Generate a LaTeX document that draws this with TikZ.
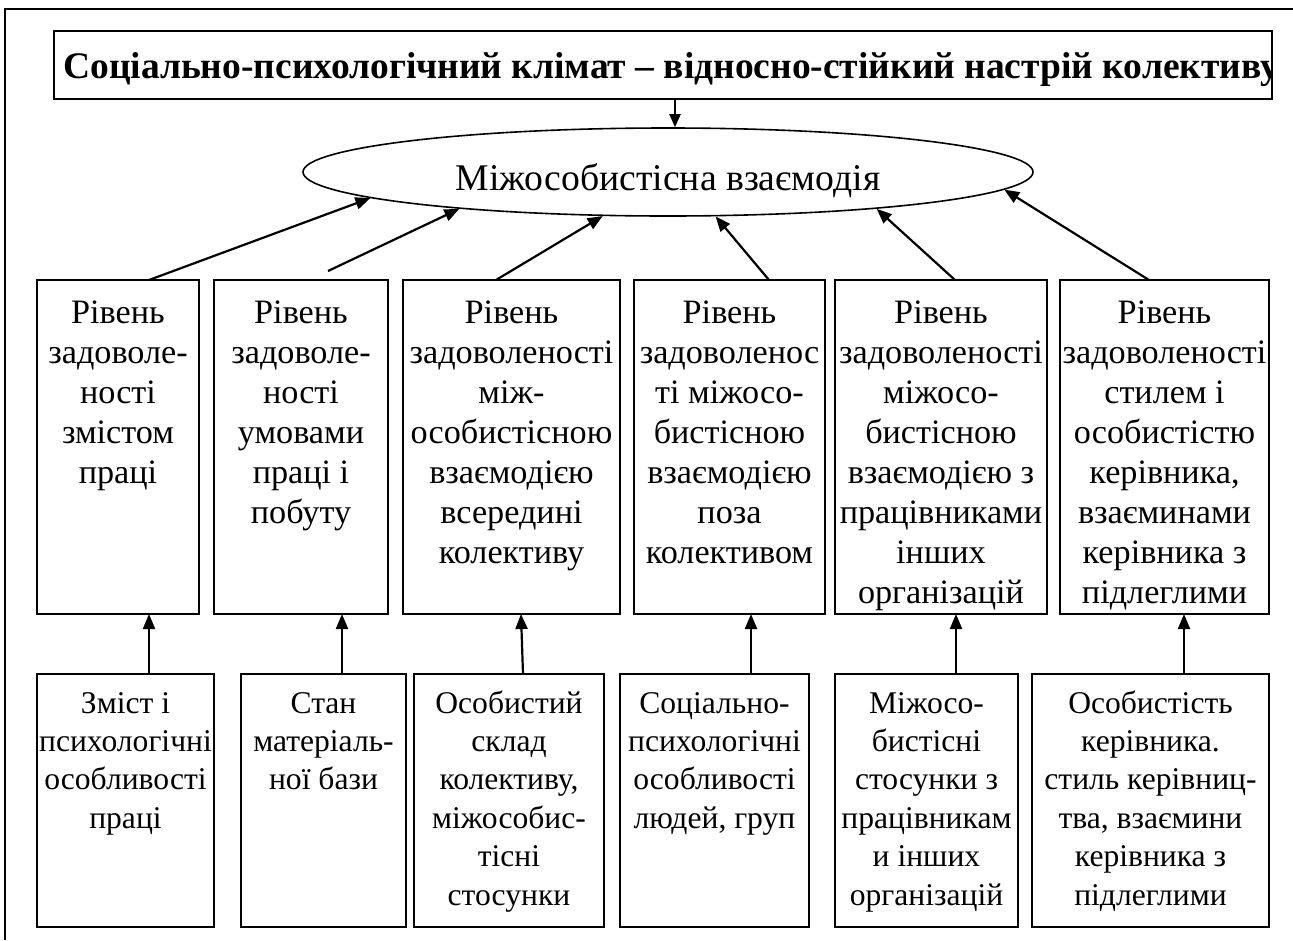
\documentclass[tikz,border=0pt]{standalone}
\usepackage{fontspec}
\setmainfont{Liberation Serif}
\usetikzlibrary{arrows.meta,shapes.geometric,calc}
\newlength{\firstbl}
\newcommand{\tbox}[3]{\makebox[#2][c]{\parbox[c][#1][t]{\dimexpr#2+80pt\relax}{\centering\rule{0pt}{\firstbl}#3\par}}}
\begin{document}
\begin{tikzpicture}[x=1pt,y=-1pt,
  frame/.style={line width=1.6pt},
  ubox/.style={draw,line width=1.6pt,inner sep=0pt,outer sep=0pt,font=\fontsize{34.2}{40}\selectfont\setlength{\firstbl}{43pt}},
  lbox/.style={draw,line width=1.6pt,inner sep=0pt,outer sep=0pt,font=\fontsize{31.6}{38.4}\selectfont\setlength{\firstbl}{39pt}},
  arr/.style={draw,line width=2.2pt,-{Triangle[length=15pt,width=12pt]}},
  darr/.style={draw,line width=2pt,-{Triangle[length=13pt,width=11pt]}}
]
\useasboundingbox (0,0) rectangle (1293,940);
\draw[frame] (5,940) -- (5,9) -- (1293,9);

% title
\node[draw,line width=1.6pt,minimum width=1218pt,minimum height=68pt,inner sep=0pt] (title) at (663,65) {};
\begin{scope}
\clip (title.south west) rectangle (title.north east);
\node[anchor=base west,inner sep=0pt,font=\fontsize{37.5}{40}\selectfont\bfseries] (ttl) at (63,78) {Соціально-психологічний клімат – відносно-стійкий настрій колективу};
\end{scope}

% ellipse
\node[ellipse,draw,line width=1.6pt,minimum width=730pt,minimum height=88pt,inner sep=0pt,text height=40pt,text depth=4pt,font=\fontsize{37.7}{40}\selectfont] (ell) at (668,172) {Міжособистісна взаємодія};

% upper boxes
\node[ubox] (u1) at (118,447) {\tbox{334pt}{162pt}{Рівень\\задоволе-\\ності\\змістом\\праці}};
\node[ubox] (u2) at (301,447) {\tbox{334pt}{174pt}{Рівень\\задоволе-\\ності\\умовами\\праці і\\побуту}};
\node[ubox] (u3) at (511.5,447) {\tbox{334pt}{217pt}{Рівень\\задоволеності\\між-\\особистісною\\взаємодією\\всередині\\колективу}};
\node[ubox] (u4) at (729.5,447) {\tbox{334pt}{191pt}{Рівень\\задоволенос\\ті міжосо-\\бистісною\\взаємодією\\поза\\колективом}};
\node[ubox] (u5) at (941,447) {\tbox{334pt}{212pt}{Рівень\\задоволеності\\міжосо-\\бистісною\\взаємодією з\\працівниками\\інших\\організацій}};
\node[ubox] (u6) at (1164.5,447) {\tbox{334pt}{209pt}{Рівень\\задоволеності\\стилем і\\особистістю\\керівника,\\взаєминами\\керівника з\\підлеглими}};

% lower boxes
\node[lbox] (l1) at (125.5,800.5) {\tbox{253pt}{177pt}{Зміст і\\психологічні\\особливості\\праці}};
\node[lbox] (l2) at (323.5,800.5) {\tbox{253pt}{165pt}{Стан\\матеріаль-\\ної бази}};
\node[lbox] (l3) at (509,800.5) {\tbox{253pt}{190pt}{Особистий\\склад\\колективу,\\міжособис-\\тісні\\стосунки}};
\node[lbox] (l4) at (714.5,800.5) {\tbox{253pt}{189pt}{Соціально-\\психологічні\\особливості\\людей, груп}};
\node[lbox] (l5) at (926.5,800.5) {\tbox{253pt}{183pt}{Міжосо-\\бистісні\\стосунки з\\працівникам\\и інших\\організацій}};
\node[lbox] (l6) at (1150.5,800.5) {\tbox{253pt}{237pt}{Особистість\\керівника.\\стиль керівниц-\\тва, взаємини\\керівника з\\підлеглими}};

% title -> ellipse
\draw[darr] ([xshift=12pt]title.south) -- ([xshift=12pt]title.south |- ell.north);

% upper boxes -> ellipse
\coordinate (f2) at (328,271);
\draw[arr] ([xshift=31pt]u1.north) -- (ell.-175.6);
\draw[arr] (f2) -- (ell.-170.75);
\draw[arr] ([xshift=-15.5pt]u3.north) -- (ell.-146.3);
\draw[arr] ([xshift=39.5pt]u4.north) -- (ell.-43.1);
\draw[arr] ([xshift=14pt]u5.north) -- (ell.-10.6);
\draw[arr] ([xshift=-15.5pt]u6.north) -- (ell.-3.5);

% lower -> upper
\draw[arr] ([xshift=23.5pt]l1.north) -- ([xshift=23.5pt]l1.north |- u1.south);
\draw[arr] ([xshift=18.5pt]l2.north) -- ([xshift=18.5pt]l2.north |- u2.south);
\draw[arr] ([xshift=14pt]l3.north) -- ([xshift=9.5pt]u3.south);
\draw[arr] ([xshift=36.5pt]l4.north) -- ([xshift=36.5pt]l4.north |- u4.south);
\draw[arr] ([xshift=29.5pt]l5.north) -- ([xshift=29.5pt]l5.north |- u5.south);
\draw[arr] ([xshift=33.5pt]l6.north) -- ([xshift=33.5pt]l6.north |- u6.south);
\end{tikzpicture}
\end{document}
